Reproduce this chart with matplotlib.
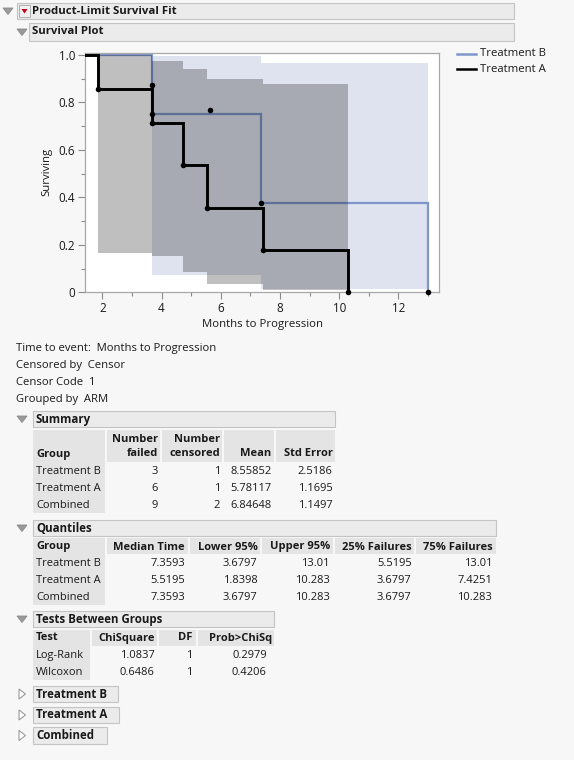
import matplotlib
matplotlib.use("Agg")
import matplotlib.pyplot as plt
from matplotlib.patches import Rectangle, Polygon
from matplotlib.ticker import MultipleLocator, FixedLocator

# ---------------- data ----------------
a_times = [0.0, 1.8398, 3.6797, 4.72, 5.5195, 7.4251, 10.283]
a_surv = [1.0, 0.857, 0.714, 0.536, 0.357, 0.179, 0.0]
b_times = [0.0, 3.6797, 7.3593, 13.01]
b_surv = [1.0, 0.75, 0.375, 0.0]

a_band_t = [1.8398, 3.6797, 4.72, 5.5195, 7.4251, 10.283]
a_band_lo = [0.167, 0.153, 0.084, 0.035, 0.010]
a_band_hi = [1.0, 0.975, 0.940, 0.898, 0.878]
b_band_t = [3.6797, 7.3593, 13.01]
b_band_lo = [0.074, 0.015]
b_band_hi = [0.994, 0.968]

mark_x = [1.8398, 3.6797, 3.6797, 3.6797, 4.72, 5.5195, 5.64, 7.3593, 7.4251, 10.283, 13.01]
mark_y = [0.857, 0.875, 0.75, 0.714, 0.536, 0.357, 0.768, 0.375, 0.179, 0.0, 0.0]

x_ticks = [2, 4, 6, 8, 10, 12]
y_ticks = [0, 0.2, 0.4, 0.6, 0.8, 1.0]
y_tick_labels = ["0", "0.2", "0.4", "0.6", "0.8", "1.0"]

info_lines = ["Time to event:  Months to Progression", "Censored by  Censor",
              "Censor Code  1", "Grouped by  ARM"]

sum_groups = ["Treatment B", "Treatment A", "Combined"]
sum_failed = ["3", "6", "9"]
sum_censored = ["1", "1", "2"]
sum_mean = ["8.55852", "5.78117", "6.84648"]
sum_se = ["2.5186", "1.1695", "1.1497"]

q_headers = ["Median Time", "Lower 95%", "Upper 95%", "25% Failures", "75% Failures"]
q_median = ["7.3593", "5.5195", "7.3593"]
q_lower = ["3.6797", "1.8398", "3.6797"]
q_upper = ["13.01", "10.283", "10.283"]
q_25 = ["5.5195", "3.6797", "3.6797"]
q_75 = ["13.01", "7.4251", "10.283"]

t_tests = ["Log-Rank", "Wilcoxon"]
t_chisq = ["1.0837", "0.6486"]
t_df = ["1", "1"]
t_prob = ["0.2979", "0.4206"]

collapsed = ["Treatment B", "Treatment A", "Combined"]

# ---------------- style ----------------
FONT = ["Open Sans", "DejaVu Sans"]
plt.rcParams['font.family'] = FONT
FS = 8.0
TXT = "#1a1a1a"
BG = "#f7f7f7"
HDR = "#ebebeb"
HDR_EDGE = "#c4c4c4"
CELL = "#e4e4e4"
BLUE_LINE = "#7f96cc"
BLUE_BAND = "#dfe3f0"

W, H = 574, 760
fig = plt.figure(figsize=(W / 100, H / 100), dpi=100)
fig.patch.set_facecolor(BG)

bg = fig.add_axes([0, 0, 1, 1])
bg.set_xlim(0, W)
bg.set_ylim(H, 0)
bg.axis("off")
bg.set_zorder(0)


def tri_down(x, y, s=5, filled=True):
    pts = [(x - s, y - s * 0.6), (x + s, y - s * 0.6), (x, y + s * 0.7)]
    bg.add_patch(Polygon(pts, closed=True, facecolor="#9a9a9a" if filled else "none",
                         edgecolor="#8a8a8a", lw=0.6))


def tri_right(x, y, s=5):
    pts = [(x - s * 0.6, y - s), (x - s * 0.6, y + s), (x + s * 0.7, y)]
    bg.add_patch(Polygon(pts, closed=True, facecolor="white", edgecolor="#9a9a9a", lw=0.8))


def header(x0, x1, y0, y1, text, tx=None, size=FS + 0.3):
    bg.add_patch(Rectangle((x0, y0), x1 - x0, y1 - y0, facecolor=HDR, edgecolor=HDR_EDGE, lw=0.8))
    bg.text(tx if tx is not None else x0 + 3, (y0 + y1) / 2, text, fontsize=size, fontweight="bold",
            color=TXT, va="center", ha="left")


def cell(x0, x1, y0, y1):
    bg.add_patch(Rectangle((x0, y0), x1 - x0, y1 - y0, facecolor=CELL, edgecolor="none"))


def t(x, y, s, ha="left", bold=False):
    bg.text(x, y, s, fontsize=FS, color=TXT, ha=ha, va="center",
            fontweight="bold" if bold else "normal")


# top headers
tri_down(8, 11)
header(17, 514, 3, 19, "Product-Limit Survival Fit", tx=32, size=FS + 0.2)
bg.add_patch(Rectangle((19, 5), 11, 12, facecolor="#f0f0f0", edgecolor="#b0b0b0", lw=0.7))
bg.add_patch(Polygon([(21.5, 9), (27.5, 9), (24.5, 13.5)], closed=True, facecolor="#c0001a", edgecolor="none"))
tri_down(22, 32)
header(29, 514, 23, 41, "Survival Plot", tx=32, size=FS + 0.2)

# ---------------- plot ----------------
L, T, R, B = 85, 52.7, 439, 292.3
ax = fig.add_axes([L / W, 1 - B / H, (R - L) / W, (B - T) / H])
ax.set_zorder(2)
ax.set_facecolor("white")
ax.set_xlim(1.415, 13.37)
ax.set_ylim(0, 1.0097)

ax.fill_between(b_band_t, b_band_lo + [b_band_lo[-1]], b_band_hi + [b_band_hi[-1]],
                step="post", facecolor=BLUE_BAND, edgecolor="none", lw=0, zorder=1)
ax.step(b_times, b_surv, where="post", color=BLUE_LINE, lw=1.6, zorder=2, solid_joinstyle="miter")
ax.fill_between(a_band_t, a_band_lo + [a_band_lo[-1]], a_band_hi + [a_band_hi[-1]],
                step="post", facecolor="black", alpha=0.25, edgecolor="none", lw=0, zorder=3)
ax.step(a_times, a_surv, where="post", color="black", lw=2.1, zorder=4, solid_joinstyle="miter")
ax.scatter(mark_x, mark_y, s=16, color="black", zorder=5, clip_on=False, linewidths=0)

ax.xaxis.set_major_locator(FixedLocator(x_ticks))
ax.xaxis.set_minor_locator(MultipleLocator(1))
ax.yaxis.set_major_locator(FixedLocator(y_ticks))
ax.set_yticklabels(y_tick_labels)
ax.yaxis.set_minor_locator(MultipleLocator(0.1))
ax.tick_params(which="major", direction="out", length=5, width=0.8, color="#8a8a8a",
               labelsize=FS + 0.4, labelcolor=TXT, pad=2)
ax.tick_params(which="minor", direction="out", length=3, width=0.8, color="#8a8a8a")
for sp in ax.spines.values():
    sp.set_color("#a8a8a8")
    sp.set_linewidth(0.9)

bg.text(263, 325, "Months to Progression", fontsize=FS + 0.2, color=TXT, ha="center", va="center")
bg.text(47, 172, "Surviving", fontsize=FS + 0.2, color=TXT, ha="center", va="center", rotation=90)

# legend
bg.plot([457, 476], [54, 54], color=BLUE_LINE, lw=1.8)
bg.plot([457, 476], [69, 69], color="black", lw=1.8)
bg.text(480, 54, "Treatment B", fontsize=FS + 0.2, color=TXT, va="center")
bg.text(480, 69, "Treatment A", fontsize=FS + 0.2, color=TXT, va="center")

# info lines
for i, s in enumerate(info_lines):
    bg.text(16, 349 + i * 16.7, s, fontsize=FS + 0.1, color=TXT, va="center")

# ---------------- Summary ----------------
tri_down(22, 419)
header(33, 335, 411, 427, "Summary")
for x0, x1 in [(33, 105), (107, 159.5), (161.5, 222), (224, 274), (276, 335)]:
    cell(x0, x1, 430, 462)
cell(33, 105, 462, 513)
t(36, 454, "Group", bold=True)
t(158, 439, "Number", ha="right", bold=True)
t(158, 454, "failed", ha="right", bold=True)
t(220, 439, "Number", ha="right", bold=True)
t(220, 454, "censored", ha="right", bold=True)
t(271.5, 454, "Mean", ha="right", bold=True)
t(332.5, 454, "Std Error", ha="right", bold=True)
for i in range(3):
    y = 471.7 + i * 16.8
    t(36, y, sum_groups[i])
    t(158, y, sum_failed[i], ha="right")
    t(220, y, sum_censored[i], ha="right")
    t(271.5, y, sum_mean[i], ha="right")
    t(332.5, y, sum_se[i], ha="right")

# ---------------- Quantiles ----------------
tri_down(22, 528)
header(33, 496, 520, 536, "Quantiles")
q_cols = [(107, 188), (190, 260), (262, 333), (335, 414), (416, 496)]
q_right = [185, 257.7, 330, 411.7, 492.3]
cell(33, 105, 538, 554)
for x0, x1 in q_cols:
    cell(x0, x1, 538, 554)
cell(33, 105, 554, 605)
t(36, 547, "Group", bold=True)
for h, xr in zip(q_headers, q_right):
    t(xr, 547, h, ha="right", bold=True)
q_vals = [q_median, q_lower, q_upper, q_25, q_75]
for i in range(3):
    y = 564 + i * 16.7
    t(36, y, sum_groups[i])
    for col, xr in zip(q_vals, q_right):
        t(xr, y, col[i], ha="right")

# ---------------- Tests Between Groups ----------------
tri_down(22, 619)
header(33, 274, 611, 627, "Tests Between Groups")
for x0, x1 in [(33, 90), (92, 157), (159, 196), (198, 274)]:
    cell(x0, x1, 630, 646)
cell(33, 90, 646, 680)
t(36, 638, "Test", bold=True)
t(154.5, 638, "ChiSquare", ha="right", bold=True)
t(192.7, 638, "DF", ha="right", bold=True)
t(272.5, 638, "Prob>ChiSq", ha="right", bold=True)
for i in range(2):
    y = 655.7 + i * 17
    t(36, y, t_tests[i])
    t(154.5, y, t_chisq[i], ha="right")
    t(192.7, y, t_df[i], ha="right")
    t(266.7, y, t_prob[i], ha="right")

# ---------------- collapsed outlines ----------------
for name, (y0, y1, x1) in zip(collapsed, [(686, 702, 118), (706.7, 723.3, 119), (727, 744, 107)]):
    tri_right(22, (y0 + y1) / 2)
    header(33, x1, y0, y1, name)

fig.savefig("out.png", dpi=100, facecolor=BG)
